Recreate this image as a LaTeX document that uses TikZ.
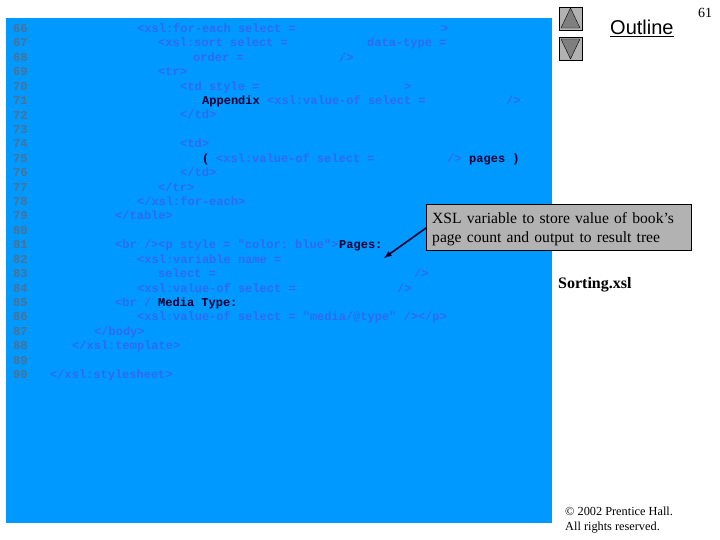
\documentclass[tikz,border=0pt]{standalone}
\usepackage{fontspec}
\setmainfont{Liberation Serif}
\setmonofont{Liberation Mono}
\newfontfamily\outlinefont{Liberation Sans}
\definecolor{slideblue}{HTML}{0099FF}
\definecolor{codeblue}{HTML}{2F6BEF}
\definecolor{linegray}{HTML}{4F7090}
\definecolor{boxgray}{HTML}{B2B2B2}
\definecolor{trigray}{HTML}{7F7F7F}
\definecolor{darknavy}{HTML}{000033}
\tikzset{
  txt/.style={anchor=base west, inner sep=0pt},
  lineno/.style={txt, text=linegray, font=\ttfamily\bfseries\fontsize{12}{14}\selectfont},
  code/.style={txt, text=codeblue, font=\ttfamily\bfseries\fontsize{12}{14}\selectfont},
  plain/.style={txt, text=darknavy, font=\ttfamily\bfseries\fontsize{12}{14}\selectfont},
}
\begin{document}
\begin{tikzpicture}[x=1pt, y=-1pt]
	\useasboundingbox (0,0) rectangle (720,540);
	\fill[white] (0,0) rectangle (720,540);
	\fill[slideblue] (6,18) rectangle (552,523);
	% line numbers
	\foreach \n in {66,...,90}
		\node[lineno] (n\n) at (13,{32.5+(\n-66)*14.42}) {\n};
	% code
	\node[code] (c66) at (137,32.5) {<xsl:for-each select =};
	\node[code] (c66b) at (441,32.5) {>};
	\node[code] (c67) at (158,46.9) {<xsl:sort select =};
	\node[code] (c67b) at (367,46.9) {data-type =};
	\node[code] (c68) at (193,61.3) {order =};
	\node[code] (c68b) at (339,61.3) {/>};
	\node[code] (c69) at (158,75.8) {<tr>};
	\node[code] (c70) at (180,90.2) {<td style =};
	\node[code] (c70b) at (404,90.2) {>};
	\node[plain] (c71) at (202,104.6) {Appendix};
	\node[code] (c71b) at (267,104.6) {<xsl:value-of select =};
	\node[code] (c71c) at (506,104.6) {/>};
	\node[code] (c72) at (180,119) {</td>};
	\node[code] (c74) at (180,147.9) {<td>};
	\node[plain] (c75) at (202,162.3) {(};
	\node[code] (c75b) at (216,162.3) {<xsl:value-of select =};
	\node[code] (c75c) at (447,162.3) {/>};
	\node[plain] (c75d) at (469,162.3) {pages )};
	\node[code] (c76) at (180,176.7) {</td>};
	\node[code] (c77) at (158,191.1) {</tr>};
	\node[code] (c78) at (137,205.5) {</xsl:for-each>};
	\node[code] (c79) at (115,220) {</table>};
	\node[code] (c81) at (115,248.8) {<br /><p style = "color: blue">};
	\node[plain] (c81b) at (339,248.8) {Pages:};
	\node[code] (c82) at (137,263.2) {<xsl:variable name =};
	\node[code] (c83) at (158,277.6) {select =};
	\node[code] (c83b) at (414,277.6) {/>};
	\node[code] (c84) at (137,292) {<xsl:value-of select =};
	\node[code] (c84b) at (397,292) {/>};
	\node[code] (c85) at (115,306.5) {<br /};
	\node[plain] (c85b) at (158,306.5) {Media Type:};
	\node[code] (c86) at (137,320.9) {<xsl:value-of select = "media/@type" /></p>};
	\node[code] (c87) at (94,335.3) {</body>};
	\node[code] (c88) at (72,349.7) {</xsl:template>};
	\node[code] (c90) at (50,378.6) {</xsl:stylesheet>};
	% buttons
	\filldraw[black, fill=boxgray] (559,7) rectangle (582,30);
	\filldraw[black, fill=trigray] (561,28)--(570.5,8)--(580,28)--cycle;
	\filldraw[black, fill=boxgray] (559,37) rectangle (582,60);
	\filldraw[black, fill=trigray] (561,39)--(570.5,59)--(580,39)--cycle;
	% right column
	\node[txt, font=\outlinefont\fontsize{20}{24}\selectfont] (outline) at (610,35) {\underline{Outline}};
	\node[txt, font=\fontsize{14}{16}\selectfont] (pagenum) at (698,18) {61};
	\node[draw=black, fill=boxgray, anchor=north west, minimum width=265, minimum height=46,
		text width=253, inner xsep=6, inner ysep=0, align=left,
		font=\fontsize{15.6}{19.5}\selectfont] (callout) at (426,204) {\rule{0pt}{15pt}XSL variable to store value of book’s\\page count and output to result tree};
	\coordinate (pagestip) at (384,258);
	\draw[-{latex[scale=1.3]}, darknavy, line width=1.6pt] (callout.west |- 0,228) -- (pagestip);
	\node[txt, font=\bfseries\fontsize{16}{18}\selectfont] (sorting) at (558,288) {Sorting.xsl};
	\node[txt, align=left, font=\fontsize{12.3}{15}\selectfont] (copy) at (565,530) {© 2002 Prentice Hall.\\All rights reserved.};
\end{tikzpicture}
\end{document}
